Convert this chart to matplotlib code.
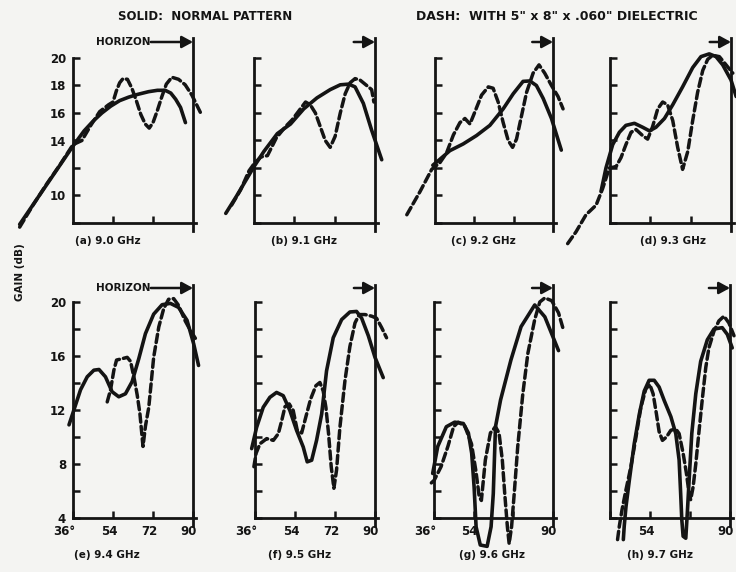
import matplotlib
matplotlib.use("Agg")
import matplotlib.pyplot as plt
from matplotlib.transforms import ScaledTranslation

# ---- data (angle in deg, gain in dB) ----
panel_labels = ['(a) 9.0 GHz', '(b) 9.1 GHz', '(c) 9.2 GHz', '(d) 9.3 GHz',
                '(e) 9.4 GHz', '(f) 9.5 GHz', '(g) 9.6 GHz', '(h) 9.7 GHz']

a_solid_x = [12, 20, 28, 36, 41, 45, 49, 53, 57, 61, 65, 70, 74, 77.5, 80, 82.2, 84.4, 86.6]
a_solid_y = [7.9, 9.8, 11.7, 13.6, 14.7, 15.4, 16.0, 16.5, 16.9, 17.15, 17.35, 17.55, 17.65, 17.65, 17.45, 17.0, 16.4, 15.3]
a_dash_x = [12, 18, 24, 30, 36, 40, 44, 48, 52, 54, 55.5, 57, 58.5, 60.5, 62.5, 64.5, 66.5, 68.5,
            70.3, 72, 74, 76, 78, 80.5, 83.5, 86.5, 89.5, 93.3]
a_dash_y = [7.7, 9.3, 10.8, 12.2, 13.7, 14.0, 15.1, 16.1, 16.6, 16.8, 17.6, 18.2, 18.5, 18.45, 17.8, 16.9, 15.9, 15.2,
            14.9, 15.3, 16.2, 17.2, 18.1, 18.6, 18.45, 18.05, 17.3, 16.05]

b_solid_x = [23.4, 28, 32, 36, 40.4, 46.4, 52.3, 58.2, 64.1, 70, 74.5, 78.2, 81.1, 84.8, 88.5, 93]
b_solid_y = [8.7, 9.9, 11.0, 12.1, 13.2, 14.5, 15.2, 16.3, 17.1, 17.7, 18.05, 18.1, 17.9, 16.7, 14.75, 12.6]
b_dash_x = [26, 30, 33.8, 36, 39, 42, 46, 50, 53, 56.7, 59, 61.1, 63.4, 65.6, 67.8, 70, 72.2, 74.5,
            76.7, 78.9, 81.1, 83.3, 86.3, 88.5, 89.5]
b_dash_y = [9.3, 10.4, 11.8, 12.3, 12.8, 12.9, 14.2, 15.0, 15.5, 16.3, 16.8, 16.6, 16.0, 15.0, 14.0, 13.5, 14.3, 16.0,
            17.4, 18.2, 18.5, 18.4, 18.0, 17.7, 16.8]

c_solid_x = [35, 38, 42.8, 48.9, 55, 61.1, 67.2, 71.8, 76.3, 79.4, 82.4, 85.5, 89.3, 93.8]
c_solid_y = [12.2, 12.6, 13.26, 13.75, 14.36, 15.1, 16.3, 17.4, 18.3, 18.33, 18.0, 17.06, 15.6, 13.3]
c_dash_x = [23.1, 29.2, 34.5, 38.3, 41.3, 44.4, 47.4, 49.7, 52, 54.3, 57.3, 60.4, 62.6, 64.9, 67.2, 69.5,
            71.5, 73.3, 75.6, 77.9, 80.9, 83.6, 86.2, 89.3, 92.3, 94.6]
c_dash_y = [8.6, 10.3, 11.9, 12.4, 13.1, 14.4, 15.3, 15.6, 15.2, 16.1, 17.3, 17.9, 17.8, 16.8, 15.3, 14.0,
            13.5, 14.1, 15.8, 17.5, 18.9, 19.5, 18.9, 18.0, 17.2, 16.3]

d_solid_x = [32, 34.2, 37.2, 40.2, 43.1, 46.9, 50.6, 53.6, 56.5, 60.3, 64, 68.4, 72.9, 76.6, 80.3, 83.3, 86.3, 90, 92.3]
d_solid_y = [10.3, 12.0, 13.7, 14.6, 15.1, 15.25, 14.96, 14.7, 14.96, 15.6, 16.6, 17.9, 19.3, 20.1, 20.3, 20.1, 19.5, 18.4, 17.2]
d_dash_x = [17.1, 20.8, 25.3, 29.8, 32.7, 35.7, 38.7, 40.9, 43.1, 45.4, 47.6, 50.6, 52.8, 55, 57.3, 59.5, 61.7,
            64, 66.2, 68.4, 70.7, 72.9, 75.1, 77.4, 79.6, 81.8, 84.8, 87.8, 90.8]
d_dash_y = [6.5, 7.35, 8.6, 9.3, 10.5, 12.0, 12.1, 12.75, 13.7, 14.6, 14.8, 14.35, 14.1, 15.0, 16.3, 16.8, 16.6,
            15.45, 13.5, 11.9, 13.2, 15.45, 17.5, 19.1, 19.9, 20.2, 20.1, 19.5, 18.9]

e_solid_x = [34.2, 36.4, 39.4, 42.4, 45.4, 47.7, 50.6, 53.6, 56.6, 59.6, 62.6, 65.6, 68.6, 72.3, 76.1, 79.8,
             83.5, 87.3, 90.3, 92.5]
e_solid_y = [10.9, 12.0, 13.5, 14.46, 14.95, 15.0, 14.46, 13.35, 12.98, 13.2, 14.1, 15.8, 17.66, 19.1, 19.8, 19.9,
             19.6, 18.65, 16.9, 15.3]
e_dash_x = [51.4, 52.9, 54.4, 55.6, 58.1, 60.4, 61.9, 63.7, 64.9, 66.1, 67.1, 67.5, 68.6, 70.1, 72.3, 74.6,
            76.8, 79.0, 81.3, 83.5, 86.5, 88.8, 91.5]
e_dash_y = [12.6, 13.5, 14.95, 15.7, 15.8, 15.9, 15.6, 14.2, 13.1, 11.75, 10.0, 9.3, 10.8, 12.2, 15.9, 18.15,
            19.5, 20.2, 20.25, 19.75, 18.6, 17.9, 17.2]

f_solid_x = [34.5, 36.7, 39.7, 42.7, 45.7, 48.7, 51.7, 54.7, 57.7, 59.5, 61.5, 63.7, 66, 68.2, 71.2, 75,
             78.7, 81.7, 84, 87, 90, 93.7]
f_solid_y = [9.14, 10.7, 12.2, 12.94, 13.3, 13.06, 11.96, 10.5, 9.26, 8.16, 8.28, 9.75, 11.7, 14.9, 17.35, 18.7,
             19.26, 19.3, 18.8, 17.5, 15.9, 14.4]
f_dash_x = [35.5, 36.5, 38.25, 41.25, 44.25, 46.5, 48, 49.5, 51.4, 53.2, 55, 57, 58.9, 61, 63.4, 65.2, 66.7,
            67.9, 69.1, 70.3, 71.5, 72.7, 74.2, 76.5, 78.7, 81, 82.9, 85.5, 88.5, 90.7, 93, 95.2]
f_dash_y = [7.8, 8.8, 9.5, 9.88, 9.75, 10.25, 11.2, 12.25, 12.45, 11.96, 10.5, 10.3, 11.5, 12.8, 13.8, 14.04, 13.4,
            12.2, 10.25, 7.8, 6.2, 7.55, 10.7, 14.2, 16.7, 18.45, 19.07, 19.07, 18.95, 18.8, 18.1, 17.35]

g_solid_x = [35.4, 37.7, 41.6, 45.4, 49.3, 51.6, 53.1, 54.2, 55.1, 57, 60.1, 61.9, 62.9, 63.9, 66.2, 70.9,
             75.5, 81.7, 86.3, 92.5]
g_solid_y = [7.3, 9.3, 10.76, 11.1, 11.0, 10.3, 8.8, 6.3, 3.35, 2.0, 1.9, 3.35, 5.8, 10.76, 12.74, 15.7,
             18.17, 19.78, 18.9, 16.4]
g_dash_x = [34.8, 36.1, 39.2, 42.3, 44.9, 47, 50, 53, 55, 56.5, 57.5, 59.3, 61.6, 63.9, 65.5, 67, 68.1, 69.3,
            70.1, 71.2, 72.4, 74, 76.3, 78.6, 81.7, 84, 86.3, 89.4, 92.5, 94.8]
g_dash_y = [6.6, 6.8, 7.8, 9.3, 10.76, 11.1, 10.8, 9.5, 7.5, 5.6, 5.3, 8.3, 10.3, 10.76, 10.3, 8.3, 5.8, 3.35,
            2.1, 3.35, 5.8, 9.3, 13.2, 16.2, 18.7, 20.0, 20.3, 20.1, 19.2, 17.9]

h_solid_x = [42, 42.4, 43.2, 44.7, 46.9, 49.2, 51.4, 53.6, 55.9, 58.1, 60.4, 63.4, 65.6, 67.1, 67.8, 68.3,
             68.9, 70.1, 70.8, 71.6, 72.8, 74.6, 76.8, 79.8, 82.8, 86.5, 88.8, 91]
h_solid_y = [2.4, 3.4, 4.85, 6.8, 9.5, 11.7, 13.4, 14.2, 14.2, 13.7, 12.7, 11.5, 10.25, 8.3, 5.8, 3.9,
             2.65, 2.5, 4.4, 6.8, 10.25, 13.2, 15.6, 17.2, 18.0, 18.1, 17.6, 16.6]
h_dash_x = [39.4, 40.2, 41.4, 43.2, 45.4, 47.7, 49.9, 52.1, 53.9, 55.4, 56.9, 58.1, 59.6, 61.4, 63.4, 65.6,
            67.1, 68.9, 70.4, 71.6, 72.3, 73.4, 74.6, 76.1, 77.6, 79.1, 80.5, 82.8, 85.0, 87.3, 89.5, 91.8]
h_dash_y = [2.4, 3.4, 4.6, 6.1, 7.8, 10.0, 12.2, 13.55, 13.9, 13.2, 11.7, 10.4, 9.75, 10.0, 10.5, 10.6,
            10.25, 8.8, 7.3, 5.8, 5.35, 6.3, 8.0, 10.5, 12.9, 15.15, 16.6, 17.85, 18.6, 18.95, 18.45, 17.5]

top_yticks = [8, 10, 12, 14, 16, 18, 20]
top_ylabels = ['', '10', '', '14', '16', '18', '20']
bot_yticks = [4, 6, 8, 10, 12, 14, 16, 18, 20]
bot_ylabels = ['4', '', '8', '', '12', '', '16', '', '20']
bot_xticks = [36, 54, 72, 90]
bot_xlabels = [['36°', '54', '72', '90'], ['36°', '54', '72', '90'],
               ['36°', '54', '', '90'], ['', '54', '', '90']]

# ---- layout (pixel positions measured on the 736x572 scan) ----
W, H = 736, 572
BG = '#f4f4f2'
INK = '#141414'
FONT = 'DejaVu Sans'

fig = plt.figure(figsize=(W / 100, H / 100), dpi=100, facecolor=BG)

lefts = [73, 254, 435, 610, 73, 255, 434, 610]
horiz = [193, 375, 553, 731, 193, 375, 553, 730]
label_cx = [108, 304, 483, 673, 107, 300, 492, 660]

solids = [(a_solid_x, a_solid_y), (b_solid_x, b_solid_y), (c_solid_x, c_solid_y), (d_solid_x, d_solid_y),
          (e_solid_x, e_solid_y), (f_solid_x, f_solid_y), (g_solid_x, g_solid_y), (h_solid_x, h_solid_y)]
dashes = [(a_dash_x, a_dash_y), (b_dash_x, b_dash_y), (c_dash_x, c_dash_y), (d_dash_x, d_dash_y),
          (e_dash_x, e_dash_y), (f_dash_x, f_dash_y), (g_dash_x, g_dash_y), (h_dash_x, h_dash_y)]

XMAX = 91.3
for i in range(8):
    top_row = i < 4
    top_px, bot_px = (58, 223) if top_row else (302, 518)
    scale = (horiz[i] - lefts[i]) / 54.0
    ax = fig.add_axes([lefts[i] / W, 1 - bot_px / H, scale * (XMAX - 36) / W, (bot_px - top_px) / H])
    ax.set_facecolor('none')
    ax.set_xlim(36, XMAX)
    ylo = 8 if top_row else 4
    ax.set_ylim(ylo, 20)
    for s in ['top', 'right']:
        ax.spines[s].set_visible(False)
    for s in ['left', 'bottom']:
        ax.spines[s].set_linewidth(2.0)
        ax.spines[s].set_color(INK)
    ax.tick_params(direction='in', length=5, width=1.8, color=INK, labelcolor=INK)
    ax.tick_params(axis='y', pad=5)
    ax.tick_params(axis='x', pad=5)

    if top_row:
        ax.set_xticks([54, 72])
        ax.set_xticklabels([])
        ax.set_yticks(top_yticks)
        ax.set_yticklabels(top_ylabels if i == 0 else [])
    else:
        ax.set_xticks(bot_xticks)
        ax.set_xticklabels(bot_xlabels[i - 4], fontsize=8.5, fontweight='bold', family=FONT)
        for k, lbl in enumerate(ax.get_xticklabels()):
            dx = -9 if k == 0 else -4
            lbl.set_transform(lbl.get_transform() + ScaledTranslation(dx / 100, 0, fig.dpi_scale_trans))
        ax.set_yticks(bot_yticks)
        ax.set_yticklabels(bot_ylabels if i == 4 else [])
    for lbl in ax.get_yticklabels():
        lbl.set_fontsize(8.5)
        lbl.set_fontweight('bold')

    # horizon line at 90 deg
    span = bot_px - top_px
    line_top = 38 if top_row else 285
    ax.axvline(90, ymin=-8 / span, ymax=1 + (top_px - line_top) / span, color=INK, lw=2.0, clip_on=False)

    # arrow towards the horizon
    ya = 20 + (16 if top_row else 14) / (span / (20 - ylo))
    if i in (0, 4):
        x0 = 71
        ax.text(x0 - 0.3, ya, 'HORIZON', ha='right', va='center', fontsize=7.5, fontweight='bold',
                family=FONT, color=INK)
    else:
        x0 = 80.5
    ax.annotate('', xy=(90, ya), xytext=(x0, ya), annotation_clip=False,
                arrowprops=dict(arrowstyle='-|>,head_length=0.55,head_width=0.3', lw=1.8, color=INK,
                                shrinkA=0, shrinkB=0, mutation_scale=12))

    sx, sy = solids[i]
    dx_, dy_ = dashes[i]
    ax.plot(sx, sy, color=INK, lw=2.6, solid_joinstyle='round', solid_capstyle='round',
            clip_on=False, zorder=4)
    ax.plot(dx_, dy_, color=INK, lw=2.5, dashes=(2.4, 1.2), dash_capstyle='round',
            clip_on=False, zorder=4)

    ly = 241 if top_row else 555
    fig.text(label_cx[i] / W, 1 - ly / H, panel_labels[i], ha='center', va='center',
             fontsize=7.5, fontweight='bold', family=FONT, color=INK)

fig.text(205 / W, 1 - 17 / H, 'SOLID:  NORMAL PATTERN', ha='center', va='center',
         fontsize=8.5, fontweight='bold', family=FONT, color=INK)
fig.text(557 / W, 1 - 16 / H, 'DASH:  WITH 5" x 8" x .060" DIELECTRIC', ha='center', va='center',
         fontsize=9, fontweight='bold', family=FONT, color=INK)
fig.text(20 / W, 1 - 272 / H, 'GAIN (dB)', rotation=90, ha='center', va='center',
         fontsize=7.5, fontweight='bold', family=FONT, color=INK)

fig.savefig('out.png', dpi=100, facecolor=BG)
